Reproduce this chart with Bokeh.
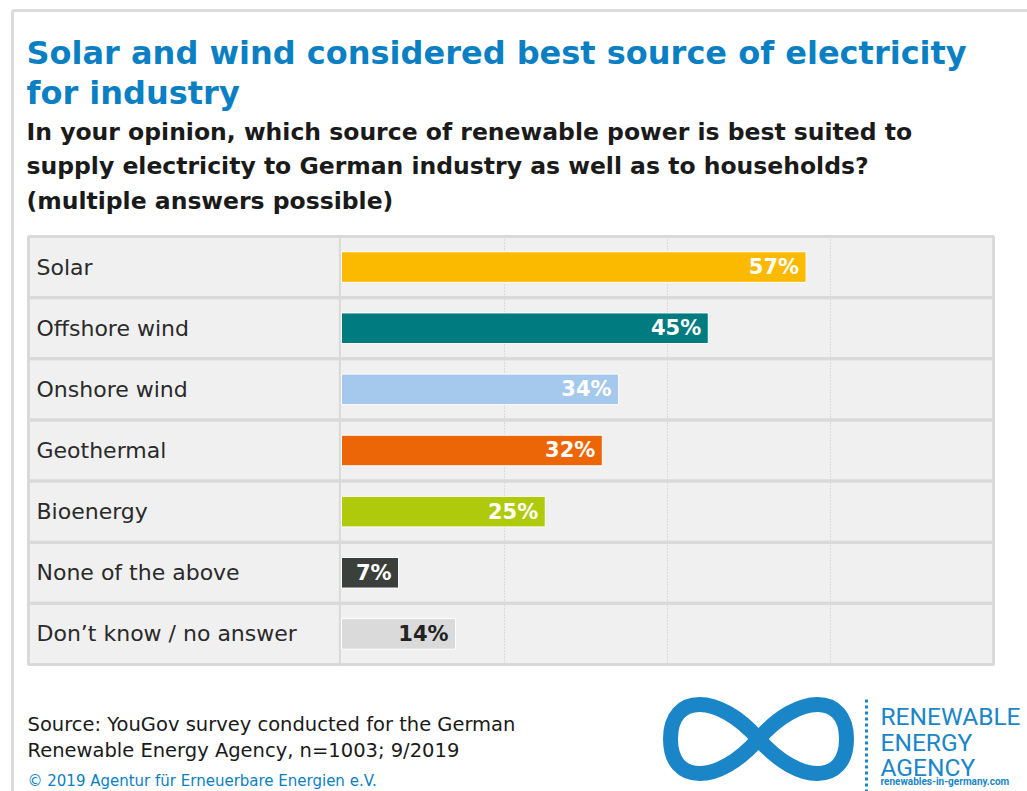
from bokeh.plotting import figure
from bokeh.models import ColumnDataSource, Range1d, Label
from bokeh.embed import file_html
from bokeh.resources import INLINE
from bokeh.core.properties import value

# ---------------- data ----------------
categories = ["Solar", "Offshore wind", "Onshore wind", "Geothermal",
              "Bioenergy", "None of the above", "Don\u2019t know / no answer"]
shares = [57, 45, 34, 32, 25, 7, 14]
bar_colors = ["#fbb900", "#007c80", "#a5c9ec", "#ec6608",
              "#afca0b", "#3b403c", "#dadada"]
value_text_colors = ["#ffffff"] * 6 + ["#222222"]
grid_ticks = [20, 40, 60]
axis_max = 80

title_lines = ["Solar and wind considered best source of electricity",
               "for industry"]
subtitle_lines = ["In your opinion, which source of renewable power is best suited to",
                  "supply electricity to German industry as well as to households?",
                  "(multiple answers possible)"]
source_lines = ["Source: YouGov survey conducted for the German",
                "Renewable Energy Agency, n=1003; 9/2019"]
copyright_text = "\u00a9 2019 Agentur f\u00fcr Erneuerbare Energien e.V."
logo_lines = ["RENEWABLE", "ENERGY", "AGENCY"]
logo_url = "renewables-in-germany.com"

# ---------------- layout ----------------
W, H = 1027, 791
MARGIN = 0
PX = 8.15          # pixels per percentage point
X0_IMG = 341       # page x of 0 %
ROW_H = 61.14
TABLE_TOP = 236

def px2x(ix):
    return (ix - X0_IMG) / PX

def px2y(iy):
    return -0.5 + (iy - TABLE_TOP) / ROW_H

BLUE = "#0b7fc4"
LOGO_BLUE = "#1a86c8"
FONT = "DejaVu Sans"

p = figure(width=W, height=H, output_backend="svg", toolbar_location=None,
           x_range=Range1d(px2x(MARGIN), px2x(MARGIN + W)),
           y_range=Range1d(px2y(MARGIN + H), px2y(MARGIN)),
           x_axis_location=None, y_axis_location=None, min_border=0,
           background_fill_color="white", border_fill_color="white")
p.outline_line_color = None
p.grid.visible = False

idx = list(range(len(categories)))
src = ColumnDataSource(dict(idx=idx, cat=categories, share=shares,
                            color=bar_colors, tcolor=value_text_colors,
                            label=[f"{v}%" for v in shares]))

# outer frame
p.segment(x0=px2x(12), y0=px2y(10), x1=px2x(12), y1=px2y(800),
          line_color="#dcdcdc", line_width=3)
p.segment(x0=px2x(12), y0=px2y(10), x1=px2x(1030), y1=px2y(10),
          line_color="#dcdcdc", line_width=3)

left_val = px2x(28)
# row backgrounds
p.hbar(y="idx", left=left_val, right=axis_max, height=1, source=src,
       fill_color="#f0f0f0", line_color=None)
# dotted gridlines
p.segment(x0=grid_ticks, y0=[-0.5] * 3, x1=grid_ticks, y1=[len(idx) - 0.5] * 3,
          line_color="#c4c4c4", line_width=1, line_dash="1 2")
# row borders
p.hbar(y="idx", left=left_val, right=axis_max, height=1, source=src,
       fill_color=None, line_color="#d9d9d9", line_width=3)
# label column separator
p.segment(x0=[-0.2], y0=[-0.5], x1=[-0.2], y1=[len(idx) - 0.5],
          line_color="#d9d9d9", line_width=2)

# bars
p.hbar(y="idx", left=0, right="share", height=0.5, source=src,
       fill_color="color", line_color="white", line_width=1)

# category labels
p.text(x=px2x(36), y="idx", text="cat", source=src, text_align="left",
       text_baseline="middle", text_color="#2a2a2a",
       text_font=value(FONT), text_font_size="22px")
# value labels
p.text(x="share", y="idx", text="label", source=src, x_offset=-7,
       text_align="right", text_baseline="middle", text_color="tcolor",
       text_font=value(FONT), text_font_style="bold", text_font_size="21px")

def add_label(text, ix, iy, size, color, style="normal", align="left",
              baseline="alphabetic", font=FONT):
    p.add_layout(Label(x=px2x(ix), y=px2y(iy), text=text, text_align=align,
                       text_baseline=baseline, text_color=color,
                       text_font=font, text_font_size=size,
                       text_font_style=style))

for i, t in enumerate(title_lines):
    add_label(t, 26, 52 + 40 * i, "32px", BLUE, "bold")
for i, t in enumerate(subtitle_lines):
    add_label(t, 26, 131 + 34.5 * i, "23.5px", "#1a1a1a", "bold")
for i, t in enumerate(source_lines):
    add_label(t, 27, 724 + 26 * i, "19.5px", "#1a1a1a")
add_label(copyright_text, 27, 780, "15px", BLUE)

# logo: infinity loop drawn with thick bezier strokes
cx, cy, hw, hh = 758, 738.5, 88, 46
loop = [
    ((cx, cy), (cx - 40, cy - hh), (cx - hw, cy - hh), (cx - hw, cy)),
    ((cx - hw, cy), (cx - hw, cy + hh), (cx - 40, cy + hh), (cx, cy)),
    ((cx, cy), (cx + 40, cy - hh), (cx + hw, cy - hh), (cx + hw, cy)),
    ((cx + hw, cy), (cx + hw, cy + hh), (cx + 40, cy + hh), (cx, cy)),
]
p.bezier(x0=[px2x(s[0][0]) for s in loop], y0=[px2y(s[0][1]) for s in loop],
         cx0=[px2x(s[1][0]) for s in loop], cy0=[px2y(s[1][1]) for s in loop],
         cx1=[px2x(s[2][0]) for s in loop], cy1=[px2y(s[2][1]) for s in loop],
         x1=[px2x(s[3][0]) for s in loop], y1=[px2y(s[3][1]) for s in loop],
         line_color=LOGO_BLUE, line_width=15)
p.segment(x0=[px2x(866)], y0=[px2y(699)], x1=[px2x(866)], y1=[px2y(791)],
          line_color=LOGO_BLUE, line_width=3, line_dash="3 3")
for i, t in enumerate(logo_lines):
    add_label(t, 880, 716 + 25.5 * i, "24.5px", LOGO_BLUE, font="Roboto")
add_label(logo_url, 880, 781, "10px", LOGO_BLUE, "bold", font="Roboto")

open("out.html", "w").write(file_html(p, INLINE))
